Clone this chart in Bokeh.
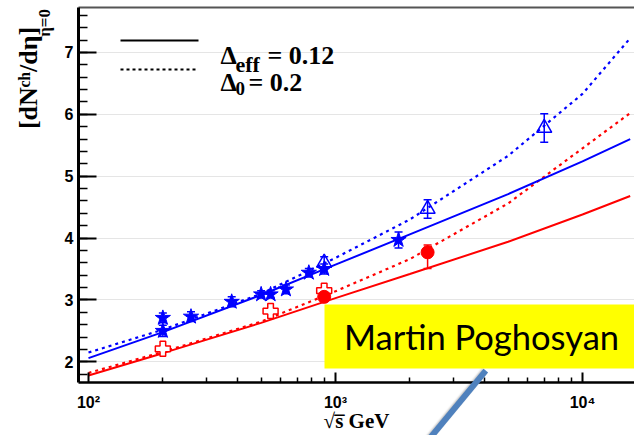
from bokeh.plotting import figure
from bokeh.models import (FixedTicker, SingleIntervalTicker, LinearAxis, LogAxis,
                          ColumnDataSource, Whisker, TeeHead, Label, BoxAnnotation,
                          Arrow, InlineStyleSheet)
from bokeh.embed import file_html
from bokeh.resources import INLINE

# Model curves, sampled at these centre-of-mass energies (GeV)
curve_energy = [100, 200, 500, 1000, 2000, 5000, 10000, 15600]
nsd_eff = [2.06, 2.48, 3.08, 3.57, 4.06, 4.71, 5.24, 5.60]      # NSD, Delta_eff = 0.12
nsd_d0 = [2.15, 2.52, 3.10, 3.68, 4.30, 5.33, 6.33, 7.23]       # NSD, Delta_0 = 0.2
inel_eff = [1.78, 2.14, 2.63, 3.03, 3.42, 3.94, 4.38, 4.68]     # INEL, Delta_eff = 0.12
inel_d0 = [1.82, 2.16, 2.65, 3.14, 3.66, 4.56, 5.45, 6.02]      # INEL, Delta_0 = 0.2

# NSD measurements (filled stars)
star_energy = [200, 200, 260, 380, 500, 546, 630, 780, 900, 1800]
star_value = [2.71, 2.50, 2.73, 2.97, 3.09, 3.09, 3.17, 3.44, 3.50, 3.97]
star_error = [0.08, 0.09, 0.08, 0.08, 0.06, 0.06, 0.07, 0.07, 0.08, 0.13]

# NSD measurements at the LHC (open triangles)
tri_energy = [900, 2360, 7000]
tri_value = [3.60, 4.47, 5.78]
tri_error = [0.10, 0.15, 0.23]

# INEL measurements (open crosses)
cross_energy = [200, 546, 900]
cross_value = [2.21, 2.82, 3.15]

# INEL measurements at the LHC (filled circles)
dot_energy = [900, 2360]
dot_value = [3.05, 3.77]
dot_err_low = [0.05, 0.26]
dot_err_high = [0.05, 0.12]

x_major = [100, 1000, 10000]
x_major_labels = ["10²", "10³", "10⁴"]
x_minor = [m * d for d in (100, 1000, 10000) for m in range(2, 10)]

BLUE = "#0000FF"
RED = "#FF0000"
SERIF = "Liberation Serif"
SANS = "Liberation Sans"
NBSP = "\u00a0"

# the pointer of the name tag is a plain CSS stroke laid over the canvas
pointer_css = """
:host::after {
  content: "";
  position: absolute;
  left: 486px;
  top: 368px;
  width: 95px;
  height: 5.5px;
  background: #4F81BD;
  box-shadow: 1px 1px 2px rgba(0, 0, 0, 0.25);
  transform-origin: 0 50%;
  transform: rotate(129.6deg);
  z-index: 10;
  pointer-events: none;
}
"""

p = figure(width=634, height=435, x_axis_type="log", y_axis_location=None,
           x_range=(91.1, 16240), y_range=(1.666, 7.726),
           output_backend="svg", toolbar_location=None,
           min_border_left=78, min_border_right=0,
           min_border_top=7, min_border_bottom=50,
           stylesheets=[InlineStyleSheet(css=pointer_css)])
p.outline_line_color = None
p.background_fill_color = "white"
p.border_fill_color = "white"
p.xgrid.visible = False

# x axis: decades with inward ticks
xa = p.xaxis[0]
xa.ticker = FixedTicker(ticks=x_major, minor_ticks=x_minor)
xa.major_label_overrides = {v: t for v, t in zip(x_major, x_major_labels)}
xa.axis_line_width = 2.5
xa.axis_line_color = "black"
xa.major_tick_in = 10
xa.major_tick_out = 0
xa.minor_tick_in = 5
xa.minor_tick_out = 0
xa.major_tick_line_width = 2
xa.minor_tick_line_width = 1.5
xa.major_label_standoff = 11
xa.major_label_text_font = SANS
xa.major_label_text_font_style = "bold"
xa.major_label_text_font_size = "16px"
xa.major_label_text_color = "black"
xa.axis_label = "√s̅ GeV"
xa.axis_label_standoff = -5
xa.axis_label_text_font = SERIF
xa.axis_label_text_font_style = "bold"
xa.axis_label_text_font_size = "21px"
xa.axis_label_text_color = "black"

# y axis: unit steps, inward ticks; its own title carries the subscript
ya = LinearAxis(ticker=SingleIntervalTicker(interval=1, num_minor_ticks=5))
ya.axis_line_width = 3
ya.axis_line_color = "black"
ya.major_tick_in = 18
ya.major_tick_out = 0
ya.minor_tick_in = 9
ya.minor_tick_out = 0
ya.major_tick_line_width = 2
ya.minor_tick_line_width = 1.5
ya.major_label_standoff = 5
ya.major_label_text_font = SANS
ya.major_label_text_font_style = "bold"
ya.major_label_text_font_size = "16px"
ya.major_label_text_color = "black"
ya.axis_label = NBSP * 81 + "η=0"
ya.axis_label_standoff = 8
ya.axis_label_text_font = SERIF
ya.axis_label_text_font_style = "bold"
ya.axis_label_text_font_size = "17px"
ya.axis_label_text_color = "black"
p.add_layout(ya, "left")

# main part of the y title
yt = LinearAxis(ticker=FixedTicker(ticks=[]), axis_line_color=None,
                major_tick_line_color=None, minor_tick_line_color=None,
                major_tick_out=0, major_tick_in=0, minor_tick_out=0, minor_tick_in=0,
                major_label_standoff=0)
yt.axis_label = NBSP * 36 + "[dNᶜʰ/dη]"
yt.axis_label_standoff = -11
yt.axis_label_text_font = SERIF
yt.axis_label_text_font_style = "bold"
yt.axis_label_text_font_size = "26px"
yt.axis_label_text_color = "black"
p.add_layout(yt, "left")

# top edge of the frame
top = LogAxis(ticker=FixedTicker(ticks=[]), axis_line_color="#555555", axis_line_width=2,
              major_tick_out=0, major_tick_in=0, minor_tick_out=0, minor_tick_in=0,
              major_label_standoff=0, major_label_text_font_size="0px")
p.add_layout(top, "above")

# model curves
p.line(curve_energy, inel_eff, line_color=RED, line_width=2)
p.line(curve_energy, inel_d0, line_color=RED, line_width=2.2, line_dash="3 4")
p.line(curve_energy, nsd_eff, line_color=BLUE, line_width=2)
p.line(curve_energy, nsd_d0, line_color=BLUE, line_width=2.2, line_dash="3 4")

# error bars
def add_errors(xs, lo, hi, color):
    src = ColumnDataSource(dict(x=xs, lo=lo, hi=hi))
    w = Whisker(source=src, base="x", lower="lo", upper="hi", dimension="height",
                line_color=color, line_width=1.5,
                upper_head=TeeHead(size=8, line_color=color, line_width=1.5),
                lower_head=TeeHead(size=8, line_color=color, line_width=1.5))
    p.add_layout(w)

add_errors(star_energy, [v - e for v, e in zip(star_value, star_error)],
           [v + e for v, e in zip(star_value, star_error)], BLUE)
add_errors(tri_energy, [v - e for v, e in zip(tri_value, tri_error)],
           [v + e for v, e in zip(tri_value, tri_error)], BLUE)
add_errors(dot_energy, [v - e for v, e in zip(dot_value, dot_err_low)],
           [v + e for v, e in zip(dot_value, dot_err_high)], RED)

# data points
p.scatter(cross_energy, cross_value, marker="plus", size=15,
          fill_color="white", line_color=RED, line_width=1.5)
p.scatter(dot_energy, dot_value, marker="circle", size=13,
          fill_color=RED, line_color=RED)
p.scatter(star_energy, star_value, marker="star", size=16,
          fill_color=BLUE, line_color=BLUE)
p.scatter(tri_energy, tri_value, marker="triangle", size=15,
          fill_color=None, line_color=BLUE, line_width=1.5)

# legend
p.add_layout(Arrow(end=None, x_start=120, y_start=40, x_end=198, y_end=40,
                   start_units="canvas", end_units="canvas",
                   line_color="black", line_width=2.2))
p.add_layout(Arrow(end=None, x_start=120, y_start=69, x_end=198, y_end=69,
                   start_units="canvas", end_units="canvas",
                   line_color="black", line_width=2.2, line_dash="3 3"))

def canvas_text(x, y, text, size, font=SERIF, style="bold",
                align="left", baseline="alphabetic", level="annotation"):
    p.add_layout(Label(x=x, y=y, x_units="canvas", y_units="canvas", text=text,
                       text_font=font, text_font_style=style, text_font_size=size,
                       text_color="black", text_align=align,
                       text_baseline=baseline, level=level))

canvas_text(220, 55, "Δ", "26px")
canvas_text(235, 64, "eff", "22px")
canvas_text(267, 55, "= 0.12", "26px")
canvas_text(220, 82, "Δ", "26px")
canvas_text(235, 88, "0", "19px")
canvas_text(248, 82, "= 0.2", "26px")

# name tag
p.add_layout(BoxAnnotation(left=324, right=640, top=304, bottom=368,
                           left_units="canvas", right_units="canvas",
                           top_units="canvas", bottom_units="canvas",
                           fill_color="#FFFF00", fill_alpha=1.0, line_color=None,
                           level="overlay"))
canvas_text(481, 336, "Martin Poghosyan", "34.5px", font="Lato", style="normal",
            align="center", baseline="middle", level="overlay")

open("out.html", "w").write(file_html(p, INLINE))
